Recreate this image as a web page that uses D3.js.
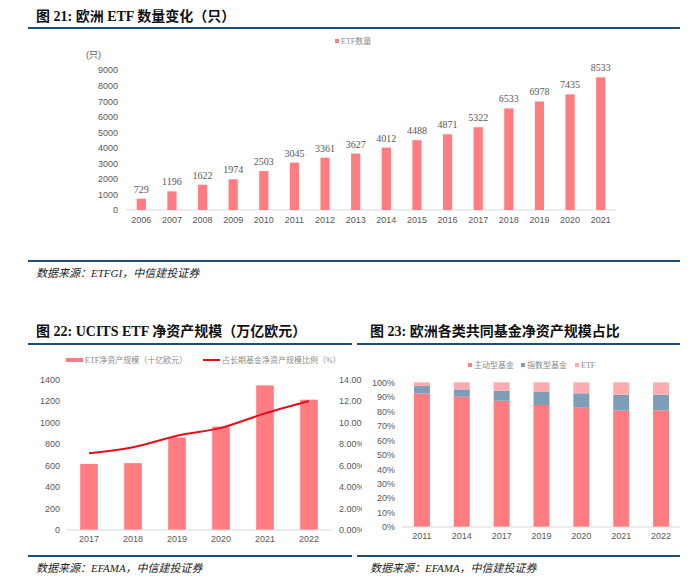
<!DOCTYPE html>
<html><head><meta charset="utf-8">
<script src="https://cdn.jsdelivr.net/npm/d3@7"></script>
<style>
html,body{margin:0;padding:0;background:#fff;}
svg{display:block;}
</style>
</head><body>
<svg id="c" width="700" height="585"></svg>
<script>
// ---------- data ----------
const years1 = ["2006","2007","2008","2009","2010","2011","2012","2013","2014","2015","2016","2017","2018","2019","2020","2021"];
const etfCount = [729,1196,1622,1974,2503,3045,3361,3627,4012,4488,4871,5322,6533,6978,7435,8533];
const ticks1 = [0,1000,2000,3000,4000,5000,6000,7000,8000,9000];

const years2 = ["2017","2018","2019","2020","2021","2022"];
const ucitsAssets = [615,622,860,962,1345,1212];
const ucitsShare = [7.13,7.7,8.77,9.5,10.85,12.0];
const ticks2L = [0,200,400,600,800,1000,1200,1400];
const ticks2R = [0,2,4,6,8,10,12,14];

const years3 = ["2011","2014","2017","2019","2020","2021","2022"];
const activeShare = [92.3,90.0,87.3,84.3,82.4,80.4,80.6];
const indexShare = [5.1,5.1,6.9,9.0,10.0,11.0,10.8];
const etfShare = [2.6,4.9,5.8,6.7,7.6,8.6,8.6];
const ticks3 = [0,10,20,30,40,50,60,70,80,90,100];

const titles = ["图 21: 欧洲 ETF 数量变化（只）","图 22: UCITS ETF 净资产规模（万亿欧元）","图 23: 欧洲各类共同基金净资产规模占比"];
const sources = ["数据来源：ETFGI，中信建投证券","数据来源：EFAMA，中信建投证券","数据来源：EFAMA，中信建投证券"];
const legend1 = ["ETF数量"];
const legend2 = ["ETF净资产规模（十亿欧元）","占长期基金净资产规模比例（%）"];
const legend3 = ["主动型基金","指数型基金","ETF"];

// ---------- style ----------
const BAR = "#ff7c80", IDX = "#7f9db9", ETFC = "#ffabb0", LINE = "#e3101b";
const AX = "#595959", GRID = "#d9d9d9", RULE = "#1f4e79";
const SANS = "'Liberation Sans', Arial, 'Noto Sans CJK SC', sans-serif";
const TITLEF = "'Liberation Serif', 'Noto Sans CJK SC', serif";
const LEGF = "'Liberation Serif', 'Noto Sans CJK SC', serif";
const fmtInt = d3.format("d");

const svg = d3.select("#c");
svg.append("rect").attr("width",700).attr("height",585).attr("fill","#fff");

function header(x, y, lineX1, lineX2, lineY, text){
  svg.append("text").attr("x",x).attr("y",y).text(text)
    .attr("font-family",TITLEF).attr("font-weight","bold").attr("font-size",14).attr("fill","#111");
  svg.append("line").attr("x1",lineX1).attr("x2",lineX2).attr("y1",lineY).attr("y2",lineY)
    .attr("stroke",RULE).attr("stroke-width",2.2);
}
function footer(x, y, lineX1, lineX2, lineY, text){
  svg.append("line").attr("x1",lineX1).attr("x2",lineX2).attr("y1",lineY).attr("y2",lineY)
    .attr("stroke",RULE).attr("stroke-width",2);
  svg.append("text").attr("x",x).attr("y",y).text(text)
    .attr("font-family",TITLEF).attr("font-style","italic").attr("font-size",11).attr("fill","#222");
}
function styleAxis(g){
  g.select(".domain").remove();
  g.selectAll(".tick line").remove();
  g.selectAll("text").attr("font-family",SANS).attr("font-size",9).attr("fill",AX);
}

// ================= Chart 1 =================
header(36,21,28,680,28,titles[0]);
{
  const x = d3.scaleBand().domain(years1).range([126,616]).paddingInner(0.7).paddingOuter(0.35);
  const y = d3.scaleLinear().domain([0,9000]).range([210,70]);
  const g = svg.append("g");
  g.append("g").attr("transform","translate(118,0)")
    .call(d3.axisLeft(y).tickValues(ticks1).tickFormat(fmtInt).tickSize(0).tickPadding(0)).call(styleAxis);
  g.append("line").attr("x1",126).attr("x2",616).attr("y1",210).attr("y2",210).attr("stroke",GRID);
  g.selectAll(".b").data(etfCount).join("rect")
    .attr("x",(d,i)=>x(years1[i])).attr("width",x.bandwidth())
    .attr("y",d=>y(d)).attr("height",d=>210-y(d)).attr("fill",BAR);
  g.selectAll(".l").data(etfCount).join("text")
    .attr("x",(d,i)=>x(years1[i])+x.bandwidth()/2).attr("y",d=>y(d)-6)
    .attr("text-anchor","middle").text(d=>d)
    .attr("font-family",LEGF).attr("font-size",10).attr("fill",AX);
  g.append("g").attr("transform","translate(0,217)")
    .call(d3.axisBottom(x).tickSize(0).tickPadding(0)).call(styleAxis)
    .selectAll("text").attr("dy","0.71em");
  g.append("text").attr("x",86).attr("y",58).text("(只)")
    .attr("font-family",SANS).attr("font-size",9).attr("fill",AX);
  g.append("rect").attr("x",335).attr("y",39).attr("width",4).attr("height",4).attr("fill",BAR);
  g.append("text").attr("x",341).attr("y",44).text(legend1[0])
    .attr("font-family",LEGF).attr("font-size",8).attr("fill","#8a8a8a");
}
footer(36,277,28,680,261,sources[0]);

// ================= Chart 2 =================
header(36,336,28,352,344,titles[1]);
{
  svg.append("clipPath").attr("id","clip2").append("rect").attr("x",0).attr("y",300).attr("width",362).attr("height",285);
  const g = svg.append("g").attr("clip-path","url(#clip2)");
  const x = d3.scaleBand().domain(years2).range([67,331]).paddingInner(0.6).paddingOuter(0.3);
  const yL = d3.scaleLinear().domain([0,1400]).range([530,379.5]);
  const yR = d3.scaleLinear().domain([0,14]).range([530,379.5]);
  g.append("g").attr("transform","translate(60,0)")
    .call(d3.axisLeft(yL).tickValues(ticks2L).tickFormat(fmtInt).tickSize(0).tickPadding(0)).call(styleAxis);
  g.append("g").attr("transform","translate(339,0)")
    .call(d3.axisRight(yR).tickValues(ticks2R).tickFormat(d=>d.toFixed(2)+"%").tickSize(0).tickPadding(0)).call(styleAxis);
  g.selectAll(".b").data(ucitsAssets).join("rect")
    .attr("x",(d,i)=>x(years2[i])).attr("width",x.bandwidth())
    .attr("y",d=>yL(d)).attr("height",d=>530-yL(d)).attr("fill",BAR);
  g.append("line").attr("x1",67).attr("x2",332).attr("y1",530).attr("y2",530).attr("stroke",GRID);
  const line = d3.line().x((d,i)=>x(years2[i])+x.bandwidth()/2).y(d=>yR(d)).curve(d3.curveCatmullRom.alpha(0.5));
  g.append("path").datum(ucitsShare).attr("d",line).attr("fill","none").attr("stroke",LINE).attr("stroke-width",2);
  g.append("g").attr("transform","translate(0,536)")
    .call(d3.axisBottom(x).tickSize(0).tickPadding(0)).call(styleAxis)
    .selectAll("text").attr("dy","0.71em");
  // legend
  g.append("rect").attr("x",66).attr("y",358).attr("width",17).attr("height",4).attr("fill",BAR);
  g.append("text").attr("x",85).attr("y",363).text(legend2[0])
    .attr("font-family",LEGF).attr("font-size",8).attr("fill","#8a8a8a");
  g.append("line").attr("x1",203).attr("x2",220).attr("y1",360).attr("y2",360).attr("stroke",LINE).attr("stroke-width",2);
  g.append("text").attr("x",222).attr("y",363).text(legend2[1])
    .attr("font-family",LEGF).attr("font-size",8).attr("fill","#8a8a8a");
}
footer(36,572,28,352,556,sources[1]);

// ================= Chart 3 =================
header(370,336,357,680,344,titles[2]);
{
  const g = svg.append("g");
  const x = d3.scaleBand().domain(years3).range([402,681]).paddingInner(0.6).paddingOuter(0.3);
  const y = d3.scaleLinear().domain([0,100]).range([527,382.3]);
  g.append("g").attr("transform","translate(395,0)")
    .call(d3.axisLeft(y).tickValues(ticks3).tickFormat(d=>d+"%").tickSize(0).tickPadding(0)).call(styleAxis);
  const rows = years3.map((yr,i)=>({yr, active:activeShare[i], index:indexShare[i], etf:etfShare[i]}));
  const stack = d3.stack().keys(["active","index","etf"])(rows);
  const cols = [BAR, IDX, ETFC];
  stack.forEach((s,k)=>{
    g.append("g").selectAll("rect").data(s).join("rect")
      .attr("x",d=>x(d.data.yr)).attr("width",x.bandwidth())
      .attr("y",d=>y(d[1])).attr("height",d=>y(d[0])-y(d[1])).attr("fill",cols[k]);
  });
  g.append("line").attr("x1",402).attr("x2",680).attr("y1",527).attr("y2",527).attr("stroke",GRID);
  g.append("g").attr("transform","translate(0,533)")
    .call(d3.axisBottom(x).tickSize(0).tickPadding(0)).call(styleAxis)
    .selectAll("text").attr("dy","0.71em");
  const lx = [468,521,575];
  legend3.forEach((t,i)=>{
    g.append("rect").attr("x",lx[i]).attr("y",363).attr("width",4).attr("height",4).attr("fill",cols[i]);
    g.append("text").attr("x",lx[i]+6).attr("y",368).text(t)
      .attr("font-family",LEGF).attr("font-size",8).attr("fill","#8a8a8a");
  });
}
footer(370,572,357,680,556,sources[2]);
</script>
</body></html>
